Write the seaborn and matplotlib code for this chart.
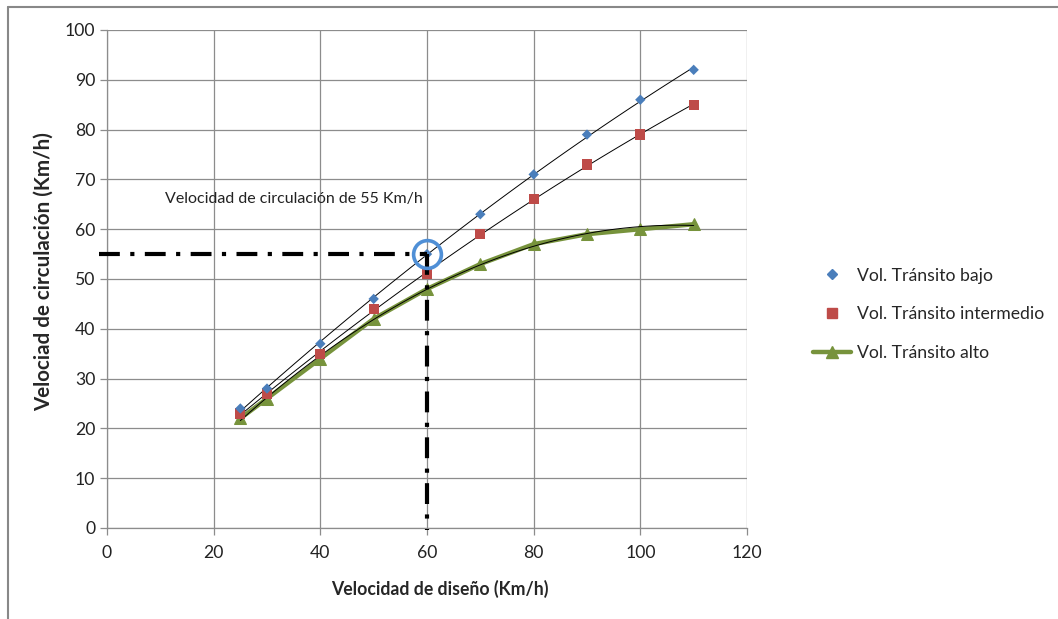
import matplotlib
matplotlib.use("Agg")
import matplotlib.pyplot as plt
import seaborn as sns
import pandas as pd
import numpy as np
from matplotlib.lines import Line2D

x_diseno = [25, 30, 40, 50, 60, 70, 80, 90, 100, 110]
bajo = [24, 28, 37, 46, 55, 63, 71, 79, 86, 92]
intermedio = [23, 27, 35, 44, 51, 59, 66, 73, 79, 85]
alto = [22, 26, 34, 42, 48, 53, 57, 59, 60, 61]
series_names = ["Vol. Tránsito bajo", "Vol. Tránsito intermedio", "Vol. Tránsito alto"]
ref_x, ref_y = 60, 55
annot = "Velocidad de circulación de 55 Km/h"
xlabel = "Velocidad de diseño (Km/h)"
ylabel = "Velociad de circulación (Km/h)"
xticks = [0, 20, 40, 60, 80, 100, 120]
yticks = [0, 10, 20, 30, 40, 50, 60, 70, 80, 90, 100]

sns.set_style("white")
plt.rcParams["font.family"] = ["Lato", "DejaVu Sans"]

BLUE = "#4a7ebb"
RED = "#be4b48"
GREEN = "#77933c"
GRID = "#8c8c8c"

fig = plt.figure(figsize=(10.58, 6.19), dpi=100)
ax = fig.add_axes([107/1058, 1-528/619, 640/1058, 498/619])

df = pd.DataFrame({"x": x_diseno, "bajo": bajo, "intermedio": intermedio, "alto": alto})

# green thick line with triangles
sns.lineplot(data=df, x="x", y="alto", ax=ax, color=GREEN, lw=3.2, marker="^",
             markersize=8, markeredgecolor=GREEN, zorder=3)
# trend lines
for col in ["bajo", "intermedio", "alto"]:
    sns.regplot(data=df, x="x", y=col, ax=ax, order=2, ci=None, scatter=False, truncate=True,
                line_kws=dict(color="black", lw=0.7, zorder=4))
sns.scatterplot(data=df, x="x", y="intermedio", ax=ax, color=RED, marker="s", s=55,
                edgecolor="none", zorder=5)
sns.scatterplot(data=df, x="x", y="bajo", ax=ax, color=BLUE, marker="D", s=28,
                edgecolor="none", zorder=6)

# reference dash-dot lines
dash = (0, (5, 2.5, 1, 2.5))
ax.plot([-1.5, ref_x], [ref_y, ref_y], color="black", lw=3, linestyle=dash, clip_on=False, zorder=7,
        dash_capstyle="butt")
ax.plot([ref_x, ref_x], [ref_y, -0.5], color="black", lw=3, linestyle=dash, clip_on=False, zorder=7,
        dash_capstyle="butt")
ax.plot([ref_x], [ref_y], marker="o", markersize=20, markerfacecolor="none",
        markeredgecolor="#4f8fd6", markeredgewidth=2.6, zorder=8)

ax.text(10.9, 66, annot, fontsize=11.5, va="center", ha="left", color="#222222")

ax.set_xlim(0, 120)
ax.set_ylim(0, 100)
ax.set_xticks(xticks)
ax.set_yticks(yticks)
ax.grid(True, color=GRID, lw=0.9)
ax.set_axisbelow(True)
for s in ["top", "right"]:
    ax.spines[s].set_visible(False)
for s in ["left", "bottom"]:
    ax.spines[s].set_color(GRID)
    ax.spines[s].set_linewidth(0.9)
ax.tick_params(axis="both", which="both", length=5, width=0.9, color=GRID, labelsize=12.7,
               labelcolor="#222222", direction="out", left=True, bottom=True)
ax.tick_params(axis="x", pad=7)
ax.set_xlabel(xlabel, fontsize=12.7, fontweight="bold", labelpad=14, x=0.52)
ax.set_ylabel(ylabel, fontsize=14.8, fontweight="bold", labelpad=8, y=0.514)

handles = [
    Line2D([], [], linestyle="none", marker="D", color=BLUE, markersize=5),
    Line2D([], [], linestyle="none", marker="s", color=RED, markersize=7),
    Line2D([], [], color=GREEN, lw=3.2, marker="^", markersize=8),
]
fig.legend(handles, series_names, loc="center left", bbox_to_anchor=(0.753, 0.492),
           frameon=False, fontsize=12.7, handlelength=2.2, labelspacing=1.3, handletextpad=0.3)

# outer chart border
fig.add_artist(Line2D([8/1058, 1], [1-7/619, 1-7/619], color="#888888", lw=1.5,
                      transform=fig.transFigure))
fig.add_artist(Line2D([8/1058, 8/1058], [1-7/619, 0], color="#888888", lw=1.5,
                      transform=fig.transFigure))

fig.savefig("out.png", dpi=100)
